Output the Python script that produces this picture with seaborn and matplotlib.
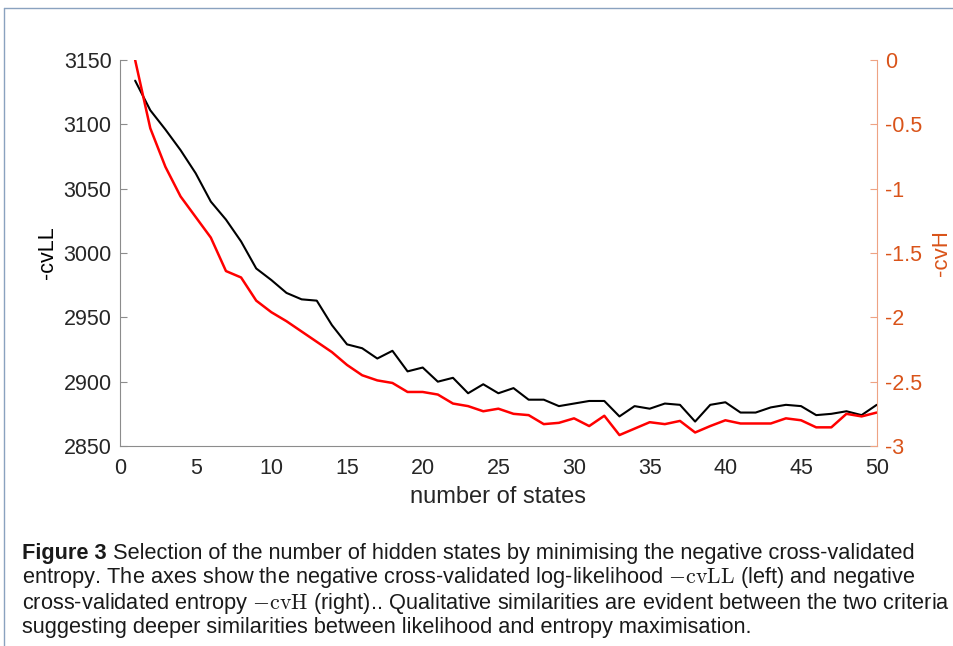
import numpy as np
import pandas as pd
import matplotlib
import matplotlib.pyplot as plt
import seaborn as sns
from matplotlib.lines import Line2D

# number of hidden states
states = list(range(1, 51))

# -cvLL (left axis)
cvll = [3134, 3111, 3096, 3080, 3062, 3040, 3026, 3009, 2988, 2979,
        2969, 2964, 2963, 2944, 2929, 2926, 2918, 2924, 2908, 2911,
        2900, 2903, 2891, 2898, 2891, 2895, 2886, 2886, 2881, 2883,
        2885, 2885, 2873, 2881, 2879, 2883, 2882, 2869, 2882, 2884,
        2876, 2876, 2880, 2882, 2881, 2874, 2875, 2877, 2874, 2882]

# -cvH (right axis)
cvh = [0.0, -0.53, -0.83, -1.06, -1.22, -1.38, -1.64, -1.69, -1.87, -1.96,
       -2.03, -2.11, -2.19, -2.27, -2.37, -2.45, -2.49, -2.51, -2.58, -2.58,
       -2.60, -2.67, -2.69, -2.73, -2.71, -2.75, -2.76, -2.83, -2.82, -2.785,
       -2.845, -2.765, -2.915, -2.865, -2.815, -2.83, -2.805, -2.895, -2.845, -2.80,
       -2.825, -2.825, -2.825, -2.785, -2.80, -2.855, -2.855, -2.75, -2.77, -2.74]

xticks = list(range(0, 51, 5))
left_ticks = [2850, 2900, 2950, 3000, 3050, 3100, 3150]
right_ticks = [-3, -2.5, -2, -1.5, -1, -0.5, 0]
right_labels = ['-3', '-2.5', '-2', '-1.5', '-1', '-0.5', '0']

df = pd.DataFrame({"states": states, "cvLL": cvll, "cvH": cvh})

sns.set_theme(style="white")
plt.rcParams['font.family'] = ['Liberation Sans', 'DejaVu Sans']
plt.rcParams['mathtext.fontset'] = 'cm'

orange = '#D95319'
txt_c = '#262626'

fig = plt.figure(figsize=(9.54, 6.46), dpi=100)
ax = fig.add_axes([0.1258, 0.3096, 0.919 - 0.1258, 0.907 - 0.3096])

sns.lineplot(data=df, x="states", y="cvLL", color='black', linewidth=1.5, ax=ax)
ax.set_xlim(0, 50)
ax.set_ylim(2850, 3150)
ax.set_xticks(xticks)
ax.set_yticks(left_ticks)
ax.set_xlabel("number of states", fontsize=17, color=txt_c, labelpad=5)
ax.set_ylabel("-cvLL", fontsize=15.5, color='black', labelpad=4)
ax.tick_params(axis='both', direction='in', length=5, width=0.8, labelsize=15.5,
               color='#8c8c8c', labelcolor=txt_c, pad=6)
ax.tick_params(axis='x', pad=9)
ax.spines['top'].set_visible(False)
ax.spines['right'].set_visible(False)
for s in ['left', 'bottom']:
    ax.spines[s].set_color('#8c8c8c')
    ax.spines[s].set_linewidth(0.8)

ax2 = ax.twinx()
sns.lineplot(data=df, x="states", y="cvH", color='red', linewidth=1.8, ax=ax2)
ax2.set_ylim(-3, 0)
ax2.set_yticks(right_ticks)
ax2.set_yticklabels(right_labels)
ax2.set_ylabel("-cvH", fontsize=16, color=orange, labelpad=6)
ax2.tick_params(axis='y', direction='in', length=5, width=0.8, labelsize=15.5,
                color='#eea383', labelcolor=orange, pad=6)
for s in ['top', 'left', 'bottom']:
    ax2.spines[s].set_visible(False)
ax2.spines['right'].set_color('#eea383')
ax2.spines['right'].set_linewidth(0.8)

# frame around the figure panel
frame_c = '#8aa2bf'
fig.add_artist(Line2D([0.004, 1.0], [1 - 8 / 646, 1 - 8 / 646], color=frame_c, lw=1.0,
                      transform=fig.transFigure))
fig.add_artist(Line2D([0.004, 0.004], [0.0, 1 - 8 / 646], color=frame_c, lw=1.0,
                      transform=fig.transFigure))

# caption
cap_x = 22 / 954
lines = [
    r"Selection of the number of hidden states by minimising the negative cross-validated",
    r"entropy. The axes show the negative cross-validated log-likelihood $-\mathrm{cvLL}$ (left) and negative",
    r"cross-validated entropy $-\mathrm{cvH}$ (right).. Qualitative similarities are evident between the two criteria",
    r"suggesting deeper similarities between likelihood and entropy maximisation.",
]
ys = [553, 578, 603, 627]
cap_fs = 15.7
t = fig.text(cap_x, 1 - ys[0] / 646, "Figure 3", fontsize=cap_fs, fontweight='bold',
             va='center', ha='left', color='#1a1a1a')
fig.canvas.draw()
bb = t.get_window_extent()
fig.text(bb.x1 / 954 + 0.007, 1 - ys[0] / 646, lines[0], fontsize=cap_fs, va='center', ha='left',
         color='#1a1a1a')
for txt, y in zip(lines[1:], ys[1:]):
    fig.text(cap_x, 1 - y / 646, txt, fontsize=cap_fs, va='center', ha='left', color='#1a1a1a')

fig.savefig("out.png", dpi=100, facecolor='white')
